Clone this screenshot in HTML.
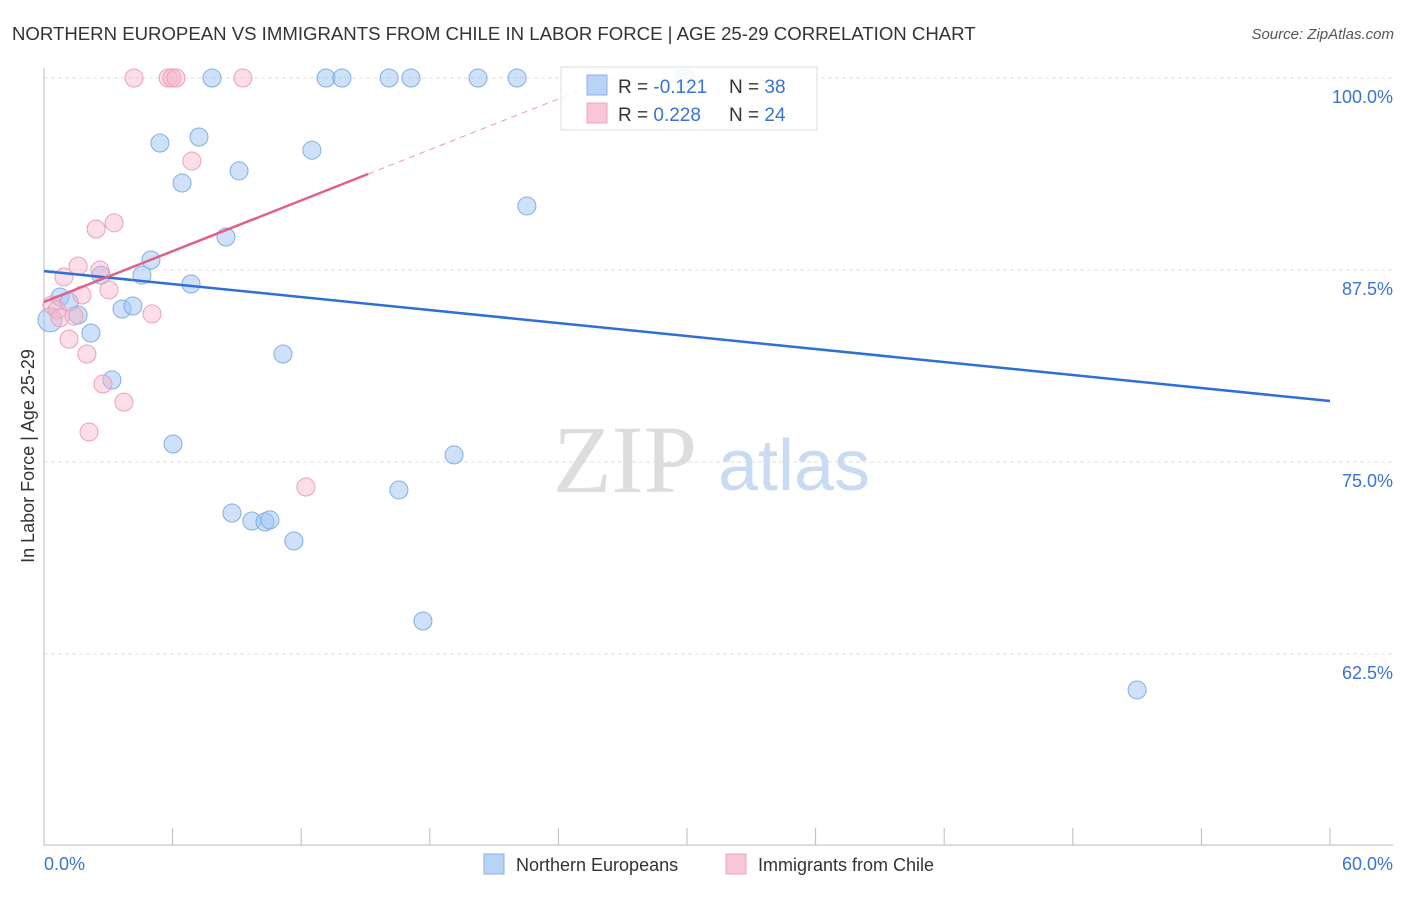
<!DOCTYPE html>
<html><head><meta charset="utf-8"><style>
body{margin:0;background:#fff;width:1406px;height:892px;overflow:hidden;font-family:"Liberation Sans",sans-serif}
</style></head><body>
<svg id="chart" width="1406" height="892" xmlns="http://www.w3.org/2000/svg" font-family="Liberation Sans, sans-serif">
<text x="12" y="40" font-size="18.6" fill="#333">NORTHERN EUROPEAN VS IMMIGRANTS FROM CHILE IN LABOR FORCE | AGE 25-29 CORRELATION CHART</text>
<text x="1394" y="39" font-size="15" fill="#555" text-anchor="end" font-style="italic">Source: ZipAtlas.com</text>
<g>
<text x="553" y="492" font-size="96" fill="#ddd" font-family="Liberation Serif, serif">ZIP</text>
<text x="718" y="490" font-size="72" fill="#c9dbf3">atlas</text>
</g>
<g id="grid"></g>
<g id="axes"></g>
<g id="marks"></g>
<g>
<rect x="561" y="67" width="256" height="63" fill="#fff" fill-opacity="0.85" stroke="#ddd"/>
<rect x="587" y="75" width="20" height="20" fill="#b8d3f5" stroke="#8ab2e6"/>
<rect x="587" y="103" width="20" height="20" fill="#f9c6d6" stroke="#eba5bd"/>
<text x="618" y="93" font-size="19" fill="#333">R = <tspan fill="#3a73d2">-0.121</tspan><tspan x="729">N = </tspan><tspan fill="#3a73d2">38</tspan></text>
<text x="618" y="121" font-size="19" fill="#333">R = <tspan fill="#3a73d2">0.228</tspan><tspan x="729">N = </tspan><tspan fill="#3a73d2">24</tspan></text>
</g>
<g>
<rect x="484" y="854" width="20" height="20" fill="#b8d3f5" stroke="#8ab2e6"/>
<text x="516" y="871" font-size="18" fill="#333">Northern Europeans</text>
<rect x="726" y="854" width="20" height="20" fill="#f9c6d6" stroke="#eba5bd"/>
<text x="758" y="871" font-size="18" fill="#333">Immigrants from Chile</text>
</g>
<text transform="translate(34,456) rotate(-90)" font-size="18" fill="#333" text-anchor="middle">In Labor Force | Age 25-29</text>
</svg>
<script>
const yTicks=[100,87.5,75,62.5];
const yTickLabels=["100.0%","87.5%","75.0%","62.5%"];
const xTickLabels=["0.0%","60.0%"];
const blueX=[7.84,13.16,13.9,16.1,17.12,20.25,22.07,29.9,5.41,7.23,6.44,9.1,12.5,22.53,8.49,4.99,4.57,2.66,6.86,0.75,1.17,3.64,4.15,1.59,2.19,0.28,11.15,3.17,6.02,19.13,16.56,8.77,9.7,10.31,10.54,11.66,17.68,51.0];
const blueY=[100,100,100,100,100,100,100,100,95.77,96.16,93.16,93.95,95.3,91.67,89.65,88.15,87.17,87.17,86.59,85.74,85.42,84.96,85.16,84.57,83.4,84.25,82.03,80.34,76.17,75.46,73.18,71.68,71.16,71.1,71.23,69.86,64.65,60.16];
const pinkX=[4.2,5.79,5.97,6.16,9.28,6.9,3.27,2.43,1.59,0.93,2.61,1.77,3.03,0.37,0.61,0.75,1.4,5.04,1.17,2.0,2.75,3.73,2.1,12.22];
const pinkY=[100,100,100,100,100,94.6,90.57,90.17,87.76,87.05,87.5,85.87,86.2,85.22,84.9,84.38,84.5,84.64,83.0,82.03,80.08,78.9,76.95,73.37];
const blueTrend=[87.43,78.97];
const pinkTrend=[85.42,93.75]; const pinkSolidEnd=15.12; const pinkDashEnd=26.5;
const NS="http://www.w3.org/2000/svg";
const X=v=>44+v/60*1286, Y=v=>78+(100-v)/12.5*192;
function mk(t,a,p){const e=document.createElementNS(NS,t);for(const k in a)e.setAttribute(k,a[k]);document.getElementById(p).appendChild(e);return e;}
yTicks.forEach((t,i)=>{
 const g=mk('line',{x1:44,x2:1393,y1:Y(t),y2:Y(t),stroke:'#ddd','stroke-dasharray':'4,3'},'grid');
 
 
 const l=mk('text',{x:1393,y:Y(t)+25,'font-size':18,fill:'#3a73d2','text-anchor':'end'},'axes');
 l.textContent=yTickLabels[i];
 
 
});
let ax=mk('line',{x1:44,x2:44,y1:68,y2:845,stroke:'#bbb'},'axes');


ax=mk('line',{x1:44,x2:1393,y1:845,y2:845,stroke:'#bbb'},'axes');


for(let i=0;i<=10;i++){const t=mk('line',{x1:X(i*6),x2:X(i*6),y1:828,y2:845,stroke:'#bbb'},'axes');
 
 }
let xl=mk('text',{x:44,y:870,'font-size':18,fill:'#3a73d2'},'axes');xl.textContent=xTickLabels[0];


xl=mk('text',{x:1393,y:870,'font-size':18,fill:'#3a73d2','text-anchor':'end'},'axes');xl.textContent=xTickLabels[1];


blueX.forEach((v,i)=>{const c=mk('circle',{cx:X(v),cy:Y(blueY[i]),r:i==25?12:9,fill:'rgba(160,196,242,0.5)',stroke:'#80aee6','stroke-width':1},'marks');
 
 });
pinkX.forEach((v,i)=>{const c=mk('circle',{cx:X(v),cy:Y(pinkY[i]),r:9,fill:'rgba(246,182,202,0.45)',stroke:'#eba0b9','stroke-width':1},'marks');
 
 });
let tl=mk('line',{x1:X(0),y1:Y(blueTrend[0]),x2:X(60),y2:Y(blueTrend[1]),stroke:'#2f6fd6','stroke-width':2.5},'marks');


const pv=x=>pinkTrend[0]+(pinkTrend[1]-pinkTrend[0])*x/pinkSolidEnd;
tl=mk('line',{x1:X(0),y1:Y(pv(0)),x2:X(pinkSolidEnd),y2:Y(pv(pinkSolidEnd)),stroke:'#e0608a','stroke-width':2.5},'marks');


tl=mk('line',{x1:X(pinkSolidEnd),y1:Y(pv(pinkSolidEnd)),x2:X(pinkDashEnd),y2:Y(pv(pinkDashEnd)),stroke:'#e89ab3','stroke-width':1,'stroke-dasharray':'6,5'},'marks');


</script>
</body></html>
